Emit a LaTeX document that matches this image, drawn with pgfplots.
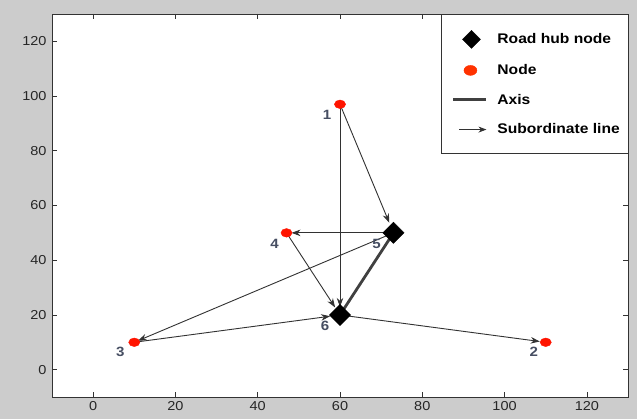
\documentclass[border=0pt]{standalone}
\usepackage{pgfplots}
\pgfplotsset{compat=1.18}
\usepackage{fontspec}
\setmainfont{Liberation Sans}[FakeStretch=1.12]
\usetikzlibrary{arrows.meta}
\definecolor{figgray}{RGB}{204,204,204}
\definecolor{edgecol}{RGB}{50,50,50}
\definecolor{axiscol}{RGB}{64,64,64}
\definecolor{nodered}{RGB}{255,20,0}
\definecolor{legred}{RGB}{255,50,0}
\definecolor{labcol}{RGB}{70,78,98}
\begin{document}
\begin{tikzpicture}
\fill[figgray] (0,0) rectangle (637bp,419bp);
\begin{axis}[
  at={(52bp,22bp)}, anchor=south west,
  scale only axis, width=576bp, height=383bp,
  xmin=-10, xmax=130, ymin=-10, ymax=130,
  xtick={0,20,...,120}, ytick={0,20,...,120},
  tick align=inside, major tick length=5bp,
  axis background/.style={fill=white},
  axis line style={black!80, line width=0.7bp},
  tick style={black!80, line width=0.7bp},
  ticklabel style={font=\fontsize{13}{15}\selectfont, text=black!85},
  xticklabel style={yshift=-1bp},
  yticklabel style={xshift=-2bp},
  /pgf/number format/assume math mode=true,
  legend style={at={(rel axis cs:1,1)}, anchor=north east, draw=black!80, fill=white,
    font=\bfseries\fontsize{14}{16}\selectfont, row sep=14bp,
    inner xsep=6bp, inner ysep=16bp},
  legend cell align=left,
]
\addlegendimage{legend image code/.code={\fill[black] (20bp,0) ++(0,9bp) -- ++(9bp,-9bp) -- ++(-9bp,-9bp) -- ++(-9bp,9bp) -- cycle;\path[draw=none] (-4bp,0) -- (44bp,0);}}
\addlegendentry{Road hub node}
\addlegendimage{legend image code/.code={\fill[legred] (19bp,0) ellipse [x radius=6.5bp, y radius=5bp];\path[draw=none] (-4bp,0) -- (44bp,0);}}
\addlegendentry{Node}
\addlegendimage{legend image code/.code={\draw[axiscol, line width=3bp] (2bp,0) -- (35bp,0);\path[draw=none] (-4bp,0) -- (44bp,0);}}
\addlegendentry{Axis}
\addlegendimage{legend image code/.code={\draw[edgecol, line width=0.9bp, -{Stealth[length=8bp,width=6bp]}] (8bp,0) -- (35bp,0);\path[draw=none] (-4bp,0) -- (44bp,0);}}
\addlegendentry{Subordinate line}

% subordinate lines
\pgfplotsset{sub/.style={forget plot, edgecol, line width=0.9bp, -{Stealth[length=9bp,width=6.5bp]}}}
\addplot[sub, shorten >=11bp] coordinates {(60,97) (73,50)};
\addplot[sub, shorten >=8bp] coordinates {(60,97) (60,20)};
\addplot[sub, shorten >=5bp] coordinates {(73,50) (47,50)};
\addplot[sub, shorten >=4bp] coordinates {(73,50) (10,10)};
\addplot[sub, shorten >=9bp] coordinates {(47,50) (60,20)};
\addplot[sub, shorten >=10bp] coordinates {(10,10) (60,20)};
\addplot[sub, shorten >=6bp] coordinates {(60,20) (110,10)};
% axis
\addplot[forget plot, axiscol, line width=2.8bp] coordinates {(73,50) (60,20)};
% hub nodes
\addplot[forget plot, only marks, mark=square*, mark options={rotate=45, fill=black, draw=black}, mark size=7.5bp] coordinates {(73,50) (60,20)};
% nodes
\addplot[forget plot, only marks, mark=*, mark options={xscale=1.3, fill=nodered, draw=nodered}, mark size=4.3bp] coordinates {(60,97) (110,10) (10,10) (47,50)};

\begin{scope}[every node/.style={font=\bfseries\fontsize{13.5}{15}\selectfont, text=labcol}]
\node at (axis cs:60,97) [xshift=-13bp, yshift=-11bp] {1};
\node at (axis cs:110,10) [xshift=-12bp, yshift=-10bp] {2};
\node at (axis cs:10,10) [xshift=-14bp, yshift=-10bp] {3};
\node at (axis cs:47,50) [xshift=-12bp, yshift=-11bp] {4};
\node at (axis cs:73,50) [xshift=-17bp, yshift=-11bp] {5};
\node at (axis cs:60,20) [xshift=-15bp, yshift=-11bp] {6};
\end{scope}
\end{axis}
\end{tikzpicture}
\end{document}
